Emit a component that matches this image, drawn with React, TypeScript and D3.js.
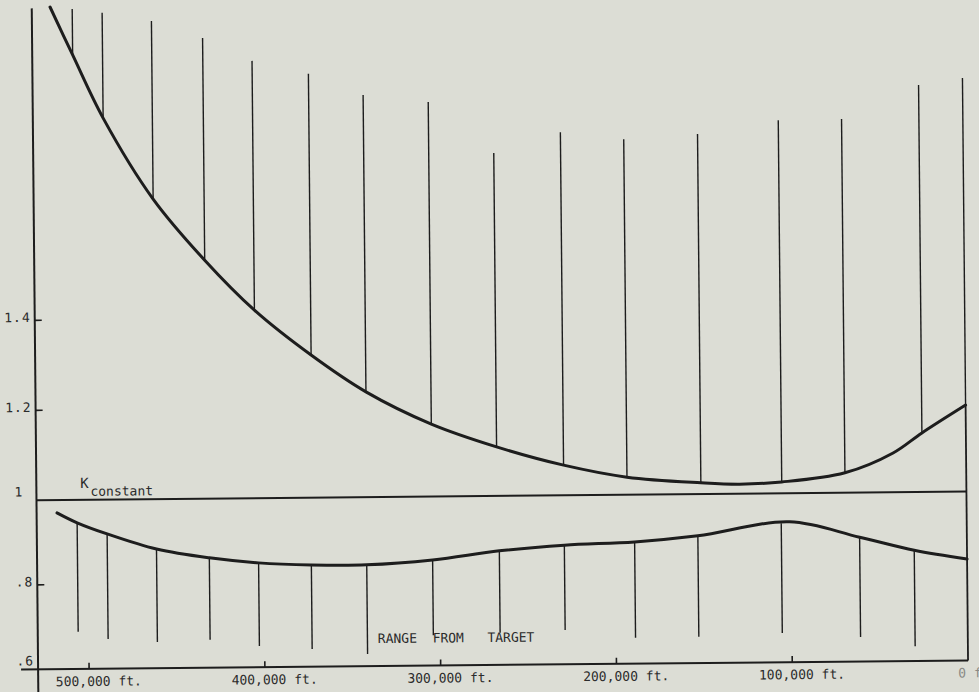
import React from 'react';
import * as d3 from 'd3';

// upper K curve (range in ft, K value)
const upperCurveRange = [518600, 506000, 489000, 461000, 432000, 404000, 372000, 341000, 304000, 267000, 229000, 193000, 151000, 129000, 105000, 69000, 41500, 25000, 0];
const upperCurveK = [2.096, 1.989, 1.848, 1.667, 1.530, 1.418, 1.317, 1.234, 1.161, 1.109, 1.067, 1.039, 1.025, 1.021, 1.025, 1.044, 1.087, 1.131, 1.192];

// vertical bars above the upper curve
const upperBarRange = [506000, 489000, 461000, 432000, 404000, 372000, 341000, 304000, 267000, 229000, 193000, 151000, 105000, 69000, 25000, 0];
const upperBarBase = [1.989, 1.848, 1.667, 1.530, 1.418, 1.317, 1.234, 1.161, 1.109, 1.067, 1.039, 1.025, 1.025, 1.044, 1.131, 1.192];
const upperBarTop = [2.091, 2.082, 2.063, 2.024, 1.972, 1.942, 1.894, 1.877, 1.762, 1.807, 1.790, 1.800, 1.829, 1.830, 1.904, 1.919];

// lower K curve
const lowerCurveRange = [517400, 506000, 489000, 461000, 431000, 403000, 373000, 341500, 304000, 266000, 229000, 189000, 153000, 100700, 61000, 30000, 0];
const lowerCurveK = [0.970, 0.946, 0.919, 0.882, 0.860, 0.847, 0.841, 0.840, 0.850, 0.870, 0.882, 0.888, 0.901, 0.932, 0.894, 0.862, 0.840];

// vertical bars below the lower curve
const lowerBarRange = [506000, 489000, 461000, 431000, 403000, 373000, 341500, 304000, 266000, 229000, 189000, 153000, 105500, 61000, 30000];
const lowerBarBase = [0.946, 0.919, 0.882, 0.860, 0.847, 0.841, 0.840, 0.850, 0.870, 0.882, 0.888, 0.901, 0.929, 0.894, 0.862];
const lowerBarBottom = [0.688, 0.670, 0.662, 0.666, 0.650, 0.642, 0.629, 0.672, 0.676, 0.681, 0.661, 0.662, 0.669, 0.658, 0.635];

const yTickValues = [1.4, 1.2, 0.8];
const yLabelValues = [1.4, 1.2, 1, 0.8, 0.6];
const yLabels = ['1.4', '1.2', '1', '.8', '.6'];
const xTickValues = [500000, 400000, 300000, 200000, 100000];
const xLabelValues = [500000, 400000, 300000, 200000, 100000, 0];

const ink = '#1d1d1d';
const paper = '#dcddd5';
const charW = 7.83;

export default function App() {
    const width = 979, height = 692;

    const x = d3.scaleLinear().domain([0, 500000]).range([965, 86]);
    const y = d3.scaleLinear().domain([0.6, 1, 1.4]).range([665, 496, 316]);

    const line = d3.line<[number, number]>()
        .curve(d3.curveCatmullRom.alpha(0.5))
        .x(d => x(d[0]))
        .y(d => y(d[1]));

    const upper = upperCurveRange.map((r, i) => [r, upperCurveK[i]] as [number, number]);
    const lower = lowerCurveRange.map((r, i) => [r, lowerCurveK[i]] as [number, number]);

    const axisX = x(529000);
    const fmt = d3.format(',');
    const font = '"DejaVu Sans Mono", monospace';

    return (
        <svg width={width} height={height} style={{ position: 'absolute', left: 0, top: 0, display: 'block' }}>
            <rect width={width} height={height} fill={paper} />
            <g transform="rotate(-0.55 490 346)" fontFamily={font} fontSize={13} fill="#2b2b2b">
                {/* axes */}
                <line x1={axisX} x2={axisX} y1={4} y2={700} stroke={ink} strokeWidth={2} />
                <line x1={18} x2={x(0)} y1={y(0.6)} y2={y(0.6)} stroke={ink} strokeWidth={2} />
                <line x1={x(0)} x2={x(0)} y1={y(0.6)} y2={y(upperBarBase[upperBarBase.length - 1])} stroke={ink} strokeWidth={1.8} />
                <line x1={axisX} x2={x(0)} y1={y(1)} y2={y(1)} stroke={ink} strokeWidth={2} />

                {yTickValues.map(v => (
                    <line key={'yt' + v} x1={axisX} x2={axisX + 7} y1={y(v)} y2={y(v)} stroke={ink} strokeWidth={1.6} />
                ))}
                {yLabelValues.map((v, i) => (
                    <text key={'yl' + v} x={v === 1 ? 22 : 31} y={y(v) + (v === 1 || v === 0.6 ? -4 : 1.5)} textAnchor="end" letterSpacing={1}>
                        {yLabels[i]}
                    </text>
                ))}

                {xTickValues.map(v => (
                    <line key={'xt' + v} x1={x(v)} x2={x(v)} y1={y(0.6)} y2={y(0.6) - 6} stroke={ink} strokeWidth={1.6} />
                ))}
                {xLabelValues.map(v => {
                    const num = fmt(v);
                    return (
                        <text key={'xl' + v} x={x(v) - 6 - num.length * charW / 2} y={y(0.6) + 17}
                            style={{ whiteSpace: 'pre' }} fill={v === 0 ? '#8a8a86' : '#2b2b2b'}>
                            {num + ' ft.'}
                        </text>
                    );
                })}

                {/* bars */}
                {upperBarRange.map((r, i) => (
                    <line key={'ub' + i} x1={x(r)} x2={x(r)} y1={y(upperBarBase[i])} y2={y(upperBarTop[i])} stroke={ink} strokeWidth={1.4} />
                ))}
                {lowerBarRange.map((r, i) => (
                    <line key={'lb' + i} x1={x(r)} x2={x(r)} y1={y(lowerBarBase[i])} y2={y(lowerBarBottom[i])} stroke={ink} strokeWidth={1.4} />
                ))}

                {/* curves */}
                <path d={line(upper) || ''} fill="none" stroke={ink} strokeWidth={3} strokeLinecap="round" />
                <path d={line(lower) || ''} fill="none" stroke={ink} strokeWidth={3} strokeLinecap="round" />

                {/* annotations */}
                <text x={79} y={y(1) - 12} fontSize={14}>K</text>
                <text x={89} y={y(1) - 4}>constant</text>
                <text x={375} y={y(0.6) - 23} style={{ whiteSpace: 'pre' }}>RANGE  FROM   TARGET</text>
            </g>
        </svg>
    );
}
